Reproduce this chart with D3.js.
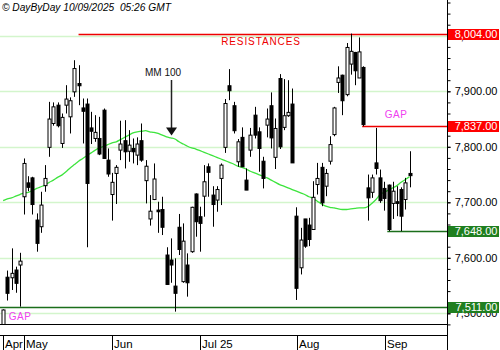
<!DOCTYPE html>
<html>
<head>
<meta charset="utf-8">
<script src="https://cdn.jsdelivr.net/npm/d3@7"></script>
<style>
  html, body { margin: 0; padding: 0; background: #fff; }
  svg { display: block; font-family: "Liberation Sans", Arial, sans-serif; }
</style>
</head>
<body>
<svg id="chart" width="500" height="350"></svg>
<script>
// Daily OHLC, 24 Apr 2025 -> 9 Sep 2025 (one value per trading session)
const opens = [7475,7565,7564,7578,7587,7710,7735,7744,7668,7656,7730,7799,7842,7875,7806,7875,7854,7899,7914,7870,
  7877,7834,7815,7815,7866,7776,7714,7752,7794,7811,7792,7797,7785,7811,7739,7670,7705,7686,7687,7605,
  7596,7549,7655,7557,7587,7611,7715,7674,7711,7764,7713,7704,7743,7799,7910,7874,7773,7817,7740,7794,
  7857,7827,7774,7839,7874,7781,7923,7835,7856,7877,7675,7582,7670,7659,7651,7732,7763,7729,7774,7822,
  7916,7929,7894,7949,7970,7924,7943,7726,7718,7771,7744,7725,7731,7698,7701,7723,7705,7752];
const highs = [7507,7577,7617,7584,7609,7779,7747,7746,7680,7719,7767,7881,7880,7880,7860,7911,7889,7956,7947,7887,
  7887,7863,7857,7854,7869,7797,7753,7767,7847,7848,7830,7815,7817,7842,7776,7713,7770,7701,7710,7619,
  7635,7599,7679,7662,7608,7692,7716,7692,7767,7770,7729,7729,7770,7886,7940,7881,7814,7835,7761,7834,
  7872,7835,7782,7869,7898,7851,7931,7922,7920,7905,7691,7654,7670,7672,7738,7771,7771,7760,7819,7872,
  7945,7930,7987,8004,7971,7997,7945,7750,7750,7834,7759,7737,7732,7737,7729,7727,7744,7792];
const lows = [7460,7523,7542,7537,7512,7678,7720,7678,7611,7645,7719,7782,7838,7835,7798,7860,7824,7890,7875,7806,
  7619,7805,7809,7785,7779,7746,7667,7697,7776,7761,7773,7770,7767,7773,7698,7658,7704,7645,7641,7551,
  7555,7503,7605,7555,7530,7609,7638,7611,7674,7710,7656,7683,7695,7789,7884,7824,7764,7764,7722,7782,
  7815,7755,7725,7817,7797,7760,7796,7830,7854,7771,7524,7570,7618,7621,7651,7714,7693,7711,7768,7819,
  7897,7857,7891,7930,7911,7924,7837,7667,7708,7750,7699,7685,7648,7670,7675,7648,7687,7727];
const closes = [7506,7536,7572,7554,7594,7770,7727,7696,7626,7695,7743,7850,7872,7838,7853,7886,7883,7941,7910,7864,
  7734,7828,7826,7787,7779,7751,7736,7763,7805,7791,7803,7791,7805,7776,7765,7684,7742,7683,7655,7552,
  7587,7536,7615,7630,7555,7691,7665,7662,7737,7754,7696,7723,7767,7878,7901,7829,7809,7764,7722,7821,
  7821,7797,7743,7850,7816,7833,7800,7856,7862,7771,7545,7632,7621,7633,7709,7743,7699,7752,7804,7870,
  7924,7883,7979,7972,7937,7971,7840,7708,7744,7761,7703,7707,7651,7720,7698,7675,7735,7748];
// 100-session moving average, read at each session
const ma100 = [7703,7706,7708,7711,7714,7717,7718,7721,7725,7728,7731,7736,7740,7745,7749,7755,7762,7768,7774,7779,
  7784,7789,7794,7798,7801,7804,7807,7809,7813,7817,7821,7825,7827,7828,7829,7827,7826,7824,7821,7818,
  7816,7814,7809,7805,7801,7798,7796,7793,7790,7787,7784,7781,7778,7775,7772,7769,7765,7763,7760,7756,
  7753,7750,7747,7744,7740,7736,7732,7729,7726,7723,7720,7717,7714,7710,7707,7702,7697,7693,7691,7690,
  7688,7687,7687,7688,7689,7690,7690,7692,7698,7705,7714,7718,7722,7726,7730,7736,7741,7746];

const priceTicks = [7500, 7600, 7700, 7800, 7900, 8000];
const monthLabels = ["Apr", "May", "Jun", "Jul 25", "Aug", "Sep"];

// Horizontal levels: value, first session index, kind
const levelValues = [8004, 7837, 7648, 7511];
const levelStart  = [18, 85.7, 91.7, -0.75];
const levelKind   = ["resistance", "resistance", "support", "support"];

// Trading calendar (Paris: weekdays, closed 1 May)
const holidays = ["2025-05-01"];
const fmtKey = d3.timeFormat("%Y-%m-%d");
const dates = [];
for (let d = new Date(2025, 3, 24); dates.length < closes.length; d = d3.timeDay.offset(d, 1)) {
  const wd = d.getDay();
  if (wd !== 0 && wd !== 6 && !holidays.includes(fmtKey(d))) dates.push(new Date(d));
}

const svg = d3.select("#chart");
const W = 500, H = 350;
const plotRight = 447.5, plotBottom = 324.5, axisTop = 335.5;

const x = d3.scaleLinear().domain([-0.75, 105.95]).range([0, 447]);
const y = d3.scaleLinear().domain([7500, 8000]).range([313.3, 35.8]);
const px = v => Math.round(x(v)) + 0.5;

svg.append("rect").attr("width", W).attr("height", H).attr("fill", "#fff");

svg.append("defs").append("clipPath").attr("id", "plotClip")
  .append("rect").attr("x", 0).attr("y", 0).attr("width", plotRight).attr("height", plotBottom);

// grid
svg.append("g").selectAll("line").data(priceTicks).join("line")
  .attr("x1", 0).attr("x2", plotRight)
  .attr("y1", d => Math.round(y(d)) + 0.5).attr("y2", d => Math.round(y(d)) + 0.5)
  .attr("stroke", "#d3f5cc").attr("stroke-width", 1.4);

const plot = svg.append("g").attr("clip-path", "url(#plotClip)");

// moving average
plot.append("path")
  .datum(ma100)
  .attr("fill", "none")
  .attr("stroke", "#3de43d")
  .attr("stroke-width", 1.3)
  .attr("d", d3.line().x((d, i) => x(i)).y(d => y(d)).curve(d3.curveMonotoneX));

// level lines
const levelColor = k => k === "resistance" ? "#ee0000" : "#1b6e1b";
plot.append("g").selectAll("line").data(levelValues).join("line")
  .attr("x1", (d, i) => x(levelStart[i])).attr("x2", plotRight)
  .attr("y1", d => Math.round(y(d)) + 0.5).attr("y2", d => Math.round(y(d)) + 0.5)
  .attr("stroke", (d, i) => levelColor(levelKind[i]))
  .attr("stroke-width", 1.5);

// candles
const candles = plot.append("g").selectAll("g").data(closes).join("g");
candles.append("line")
  .attr("x1", (d, i) => px(i)).attr("x2", (d, i) => px(i))
  .attr("y1", (d, i) => y(highs[i])).attr("y2", (d, i) => y(lows[i]))
  .attr("stroke", "#000").attr("stroke-width", 1);
candles.append("rect")
  .attr("x", (d, i) => px(i) - 1.5)
  .attr("width", 3)
  .attr("y", (d, i) => y(Math.max(opens[i], closes[i])))
  .attr("height", (d, i) => Math.max(1, Math.abs(y(opens[i]) - y(closes[i]))))
  .attr("fill", (d, i) => closes[i] >= opens[i] ? "#fff" : "#000")
  .attr("stroke", "#000").attr("stroke-width", 1);

// annotations
svg.append("text").attr("x", 261).attr("y", 44.5).attr("text-anchor", "middle")
  .attr("font-size", 10).attr("letter-spacing", 0.9).attr("fill", "#ee0000").text("RESISTANCES");
svg.append("text").attr("x", 396).attr("y", 118).attr("text-anchor", "middle")
  .attr("font-size", 10).attr("letter-spacing", 0.5).attr("fill", "#f040f0").text("GAP");
svg.append("text").attr("x", 20).attr("y", 320).attr("text-anchor", "middle")
  .attr("font-size", 10).attr("letter-spacing", 0.5).attr("fill", "#f040f0").text("GAP");

const arrowIdx = 40;
const ax = px(arrowIdx), tipY = y(ma100[arrowIdx]) - 2.5;
svg.append("text").attr("x", 163).attr("y", 76).attr("text-anchor", "middle")
  .attr("font-size", 10).attr("fill", "#111").text("MM 100");
svg.append("line").attr("x1", ax).attr("x2", ax).attr("y1", 80).attr("y2", tipY - 6)
  .attr("stroke", "#222").attr("stroke-width", 1.5);
svg.append("path")
  .attr("d", `M${ax - 5.5},${tipY - 8} L${ax + 5.5},${tipY - 8} L${ax},${tipY} Z`)
  .attr("fill", "#111");

// title
svg.append("text").attr("x", 2).attr("y", 10.5)
  .attr("font-size", 10.2).attr("font-style", "italic").attr("fill", "#000")
  .text("© DayByDay 10/09/2025\u00A0\u00A005:26 GMT");

// frame lines
svg.append("line").attr("x1", 0).attr("x2", plotRight).attr("y1", plotBottom).attr("y2", plotBottom)
  .attr("stroke", "#000");
svg.append("line").attr("x1", 0).attr("x2", plotRight).attr("y1", axisTop).attr("y2", axisTop)
  .attr("stroke", "#000");
svg.append("line").attr("x1", plotRight).attr("x2", plotRight).attr("y1", 0).attr("y2", H)
  .attr("stroke", "#000");

// price axis
const yAxis = svg.append("g").attr("transform", `translate(${plotRight},0)`);
yAxis.call(d3.axisRight(y).tickValues(d3.range(7480, 8061, 20)).tickSize(3).tickFormat(""))
  .call(g => g.select(".domain").remove());
const yLabels = svg.append("g").attr("transform", `translate(${plotRight},0)`);
yLabels.call(d3.axisRight(y).tickValues(priceTicks).tickSize(3).tickFormat(d3.format(",.2f")))
  .call(g => g.select(".domain").remove())
  .call(g => g.selectAll("text").attr("x", 50).attr("text-anchor", "end")
    .attr("font-size", 11).attr("font-family", "'Liberation Sans', Arial, sans-serif").attr("fill", "#000"));
yAxis.selectAll(".tick line").attr("stroke", "#000");
yLabels.selectAll(".tick line").attr("stroke", "#000");

// level price tags
const tagColor = k => k === "resistance" ? "#ff0000" : "#1f7f1f";
const tags = svg.append("g").selectAll("g").data(levelValues).join("g")
  .attr("transform", d => `translate(${plotRight},${Math.round(y(d))})`);
tags.append("rect").attr("x", 0.5).attr("y", -5).attr("width", 51).attr("height", 11)
  .attr("fill", (d, i) => tagColor(levelKind[i]));
tags.append("text").attr("x", 50).attr("y", 0.5).attr("dy", "0.35em").attr("text-anchor", "end")
  .attr("font-size", 11).attr("fill", "#fff").text(d => d3.format(",.2f")(d));

// month axis
const monthStarts = [];
dates.forEach((d, i) => { if (i === 0 || d.getMonth() !== dates[i - 1].getMonth()) monthStarts.push(i); });
const months = svg.append("g").selectAll("g").data(monthStarts).join("g")
  .attr("transform", d => `translate(${Math.round(x(d) + 0.3) + 0.5},0)`);
months.append("line").attr("y1", axisTop).attr("y2", H).attr("stroke", "#000");
months.append("text").attr("x", 1.5).attr("y", 347.5).attr("font-size", 11.5).attr("fill", "#000")
  .text((d, i) => monthLabels[i]);
</script>
</body>
</html>
